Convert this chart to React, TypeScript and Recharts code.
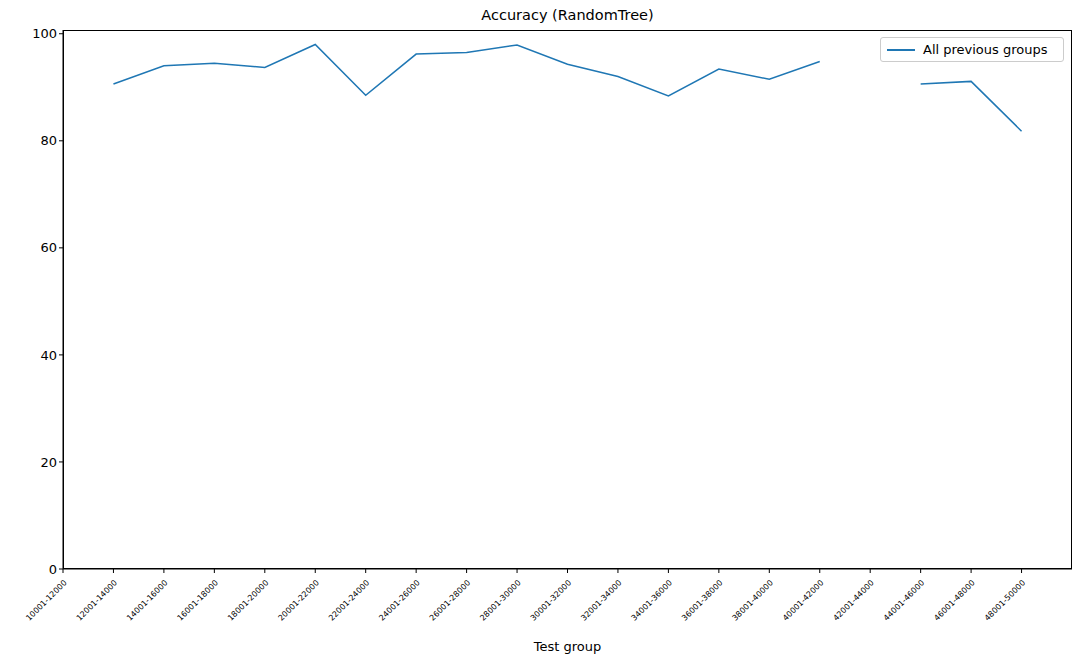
import React from "react";
import { LineChart, Line, XAxis, YAxis } from "recharts";

const groups = [
  "10001-12000", "12001-14000", "14001-16000", "16001-18000", "18001-20000",
  "20001-22000", "22001-24000", "24001-26000", "26001-28000", "28001-30000",
  "30001-32000", "32001-34000", "34001-36000", "36001-38000", "38001-40000",
  "40001-42000", "42001-44000", "44001-46000", "46001-48000", "48001-50000",
];
const accuracy: (number | null)[] = [
  null, 90.6, 94.0, 94.5, 93.7, 98.0, 88.5, 96.2, 96.5, 97.9,
  94.3, 92.0, 88.4, 93.4, 91.5, 94.8, null, 90.6, 91.1, 81.8,
];
const yTicks = [0, 20, 40, 60, 80, 100];

const data = groups.map((g, i) => ({ idx: i, group: g, acc: accuracy[i] }));
const font = "'DejaVu Sans', sans-serif";

const RotTick = (props: any) => {
  const { x, y, payload } = props;
  return (
    <g transform={`translate(${x},${y + 4})`}>
      <text textAnchor="end" fontSize={8} fill="#000" fontFamily={font} transform="rotate(-45)" dy={6}>
        {groups[payload.value]}
      </text>
    </g>
  );
};

export default function App() {
  return (
    <div style={{ position: "absolute", left: 0, top: 0, width: 1080, height: 661, background: "#fff", fontFamily: font }}>
      <div style={{ position: "absolute", top: 7, left: 63, width: 1009, textAlign: "center", fontSize: 14.5 }}>
        Accuracy (RandomTree)
      </div>
      <LineChart width={1080} height={661} data={data} margin={{ top: 30, right: 8, left: 0, bottom: 0 }}>
        <XAxis
          dataKey="idx"
          type="number"
          domain={[0, 20]}
          ticks={groups.map((_, i) => i)}
          interval={0}
          height={92}
          tick={<RotTick />}
          tickSize={4}
          stroke="#000"
          label={{ value: "Test group", position: "insideBottom", offset: 10, fill: "#000", fontSize: 13 }}
        />
        <YAxis
          type="number"
          domain={[0, 100.7]}
          ticks={yTicks}
          width={63}
          tickSize={4}
          stroke="#000"
          tick={{ fill: "#000", fontSize: 13, fontFamily: font }}
        />
        <Line dataKey="acc" stroke="#1f77b4" strokeWidth={1.5} dot={false} connectNulls={false} isAnimationActive={false} />
      </LineChart>
      <div style={{ position: "absolute", left: 63, top: 30, width: 1009, height: 539, border: "1px solid #000", boxSizing: "border-box", pointerEvents: "none" }} />
      <div style={{ position: "absolute", left: 880, top: 37, width: 184, height: 25, border: "1px solid #ccc", borderRadius: 3, boxSizing: "border-box", display: "flex", alignItems: "center", fontSize: 13 }}>
        <span style={{ display: "inline-block", width: 28, height: 2, background: "#1f77b4", marginLeft: 6, marginRight: 8 }} />
        All previous groups
      </div>
    </div>
  );
}
